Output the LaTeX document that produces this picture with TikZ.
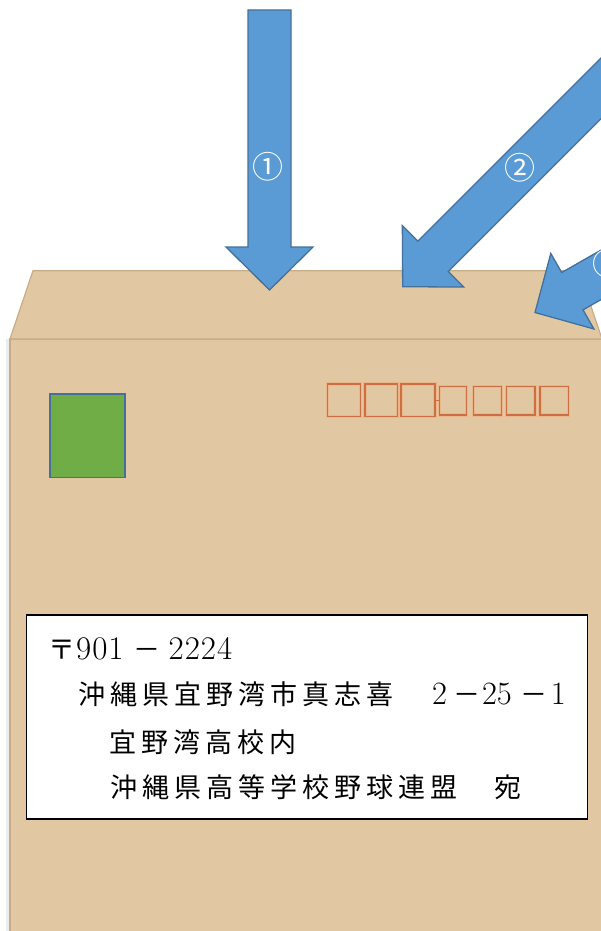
\documentclass[tikz,border=0pt]{standalone}
\usepackage{fontspec}
\newfontfamily\jpf[LetterSpace=18.5]{Noto Sans CJK JP}
\newfontfamily\jpl{Noto Sans CJK JP}
\newfontfamily\dgf{Latin Modern Roman}
\newfontfamily\dglf[LetterSpace=3]{Latin Modern Roman}
\newcommand\jp{\jpf\fontsize{27pt}{27pt}\selectfont}
\newcommand\dg{\dgf\fontsize{32.5pt}{32.5pt}\selectfont}
\newcommand\dgb{\dglf\fontsize{33pt}{33pt}\selectfont}
\newcommand\dash[2]{\kern#1\makebox[35pt]{\jpl\fontsize{27pt}{27pt}\selectfont －}\kern#2}
\definecolor{envfill}{RGB}{225,200,163}
\definecolor{envedge}{RGB}{200,172,135}
\definecolor{arrfill}{RGB}{91,155,213}
\definecolor{arredge}{RGB}{65,113,156}
\definecolor{stampfill}{RGB}{112,173,71}
\definecolor{postline}{RGB}{204,112,68}
\definecolor{postglow}{RGB}{240,170,125}
\tikzset{
  arrowstyle/.style={fill=arrfill, draw=arredge, line width=1.3pt, line join=miter},
  postbox/.style={draw=postline, line width=1.5pt},
  postglowbox/.style={draw=postglow, line width=3.5pt, opacity=0.6},
  addrline/.style={anchor=base west, inner sep=0pt},
  lbl/.style={text=white, inner sep=0pt, font=\jpl\fontsize{31pt}{31pt}\selectfont},
}
\newcommand\blockarrow[3]{%
  \begin{scope}[shift={#1}, rotate=#2]
    \filldraw[arrowstyle] (0,0) -- (-43,43.5) -- (-43,21.5) -- (-#3,21.5)
      -- (-#3,-21.5) -- (-43,-21.5) -- (-43,-43.5) -- cycle;
  \end{scope}}
\begin{document}
\begin{tikzpicture}[x=1pt, y=-1pt]
\clip (0,0) rectangle (601,931);
\fill[white] (0,0) rectangle (601,931);
% envelope body
\fill[gray!15] (6,339) rectangle (10,940);
\filldraw[fill=envfill, draw=envedge, line width=1.2pt] (10,339) rectangle (640,940);
% flap
\filldraw[fill=envfill, draw=envedge, line width=1.2pt, line join=round]
  (10,339) -- (33,270.7) -- (579,270.7) -- (602,339) -- cycle;
% postal code boxes
\foreach \a/\b/\c/\d in {327.3/384/360.7/416.7, 365/384/397.3/416.7, 401/384/435/416.7,
  439.3/386.7/466.7/415, 473.3/386.7/501.7/415, 506.7/386.7/535/415, 540/386.7/568.3/415}{
  \draw[postglowbox] (\a,\b) rectangle (\c,\d);
  \draw[postbox] (\a,\b) rectangle (\c,\d);
}
\draw[postbox] (435,400.5) -- (439.3,400.5);
% stamp
\filldraw[fill=stampfill, draw=arredge, line width=1.5pt] (50,394) rectangle (125,477.7);
% address box
\node[draw=black, fill=white, line width=1.6pt, minimum width=561pt, minimum height=204pt,
  inner sep=0pt, anchor=north west] (addr) at (25.7,614.3) {};
\node[addrline] (l1) at (48,659) {\jp 〒\kern1pt\dgb 901\dash{6pt}{4pt}\dgb 2224};
\node[addrline] (l2) at (78,704.5) {\jp 沖縄県宜野湾市真志喜　\kern7pt\dg 2\dash{2pt}{-2pt}\dg 25\dash{5pt}{-1pt}\dg 1};
\node[addrline] (l3) at (109,752) {\jp 宜野湾高校内};
\node[addrline] (l4) at (110,797.5) {\jp 沖縄県高等学校野球連盟　宛};
% arrows
\blockarrow{(269.5,290)}{-90}{280}
\blockarrow{(402.7,286.7)}{225}{420}
\blockarrow{(535,312.5)}{209.7}{200}
\node[lbl] (n1) at (268,167) {①};
\node[lbl] (n2) at (520,168) {②};
\node[lbl] (n3) at (608,264) {③};
\end{tikzpicture}
\end{document}
